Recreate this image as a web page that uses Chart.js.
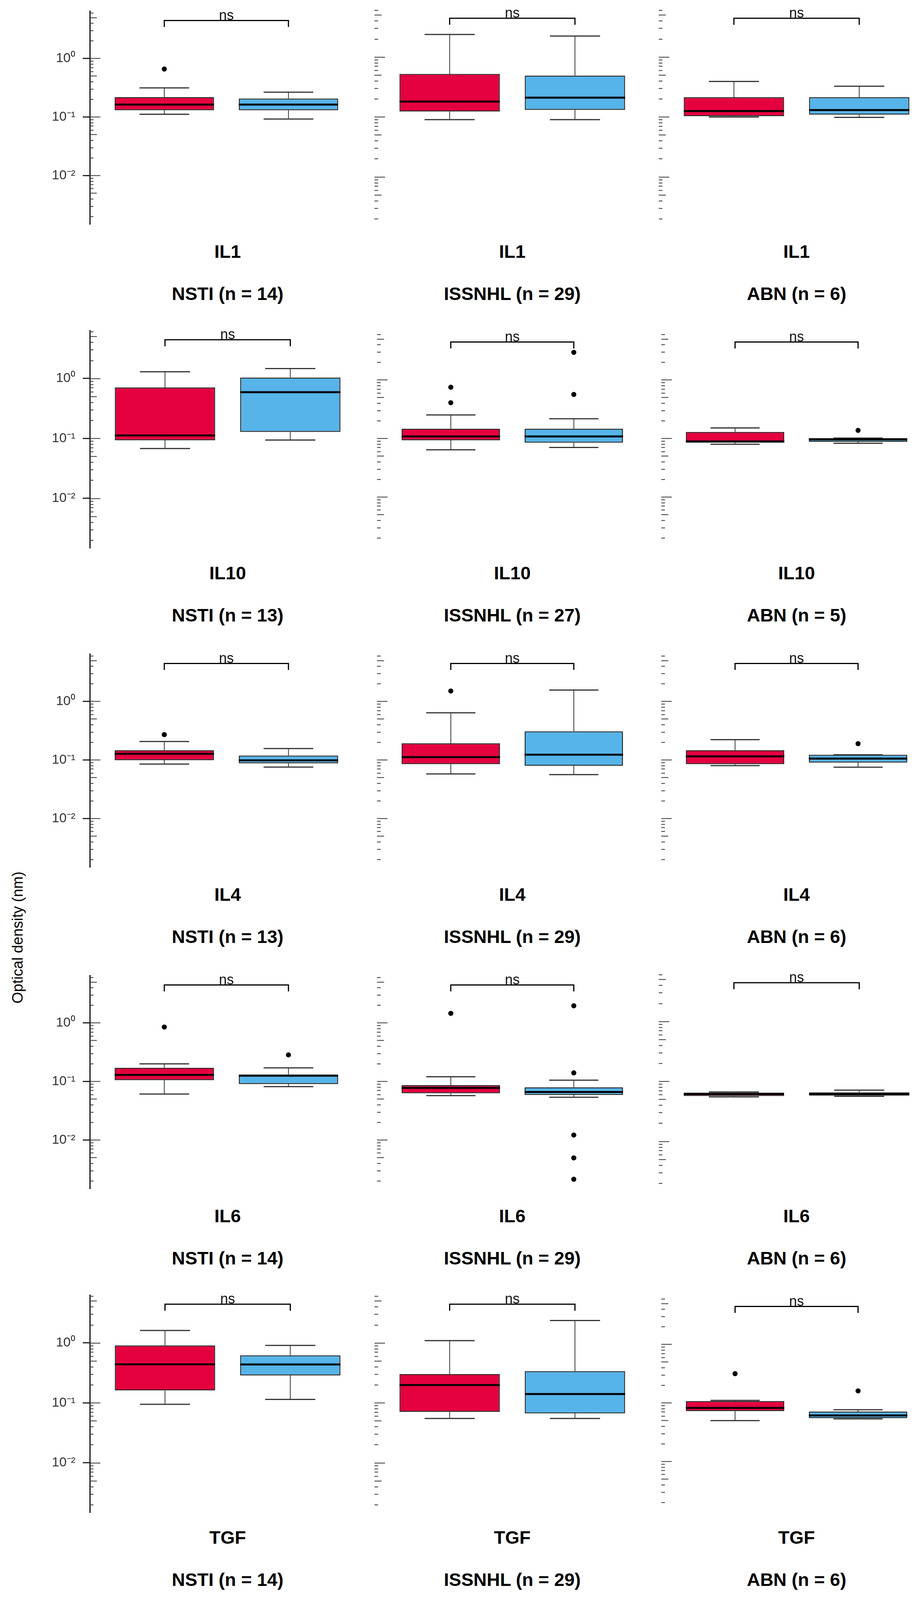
<!DOCTYPE html>
<html>
<head>
<meta charset="utf-8">
<script src="https://cdn.jsdelivr.net/npm/chart.js@4.4.1/dist/chart.umd.min.js"></script>
<style>
  html, body { margin: 0; padding: 0; background: #fff; }
  #fig { position: relative; width: 2351px; height: 5267px; overflow: hidden;
         font-family: "Liberation Sans", Arial, sans-serif; color: #000; }
  #fig canvas { position: absolute; }
  .lbl { position: absolute; white-space: nowrap; line-height: 1; transform: translate(-50%, -50%); }
  .strip { font-weight: bold; font-size: 47px; }
  .ytitle { font-size: 38px; transform: translate(-50%, -50%) rotate(-90deg); }
  .leg { position: absolute; white-space: nowrap; line-height: 1; transform: translateY(-50%); }
  .key { position: absolute; width: 40px; height: 40px; transform: translateY(-50%); }
  .key .wh { position: absolute; left: 19px; top: 0; width: 2px; height: 40px; background: #333; }
  .key .bx { position: absolute; left: 0; top: 6px; width: 36px; height: 24px; border: 2px solid #222; }
  .key .md { position: absolute; left: 0; top: 18px; width: 40px; height: 4px; background: #000; }
</style>
</head>
<body>
<div id="fig"></div>
<script>
// facets
const markers = ['IL1', 'IL10', 'IL4', 'IL6', 'TGF', 'VEGF'];
const groups = ['NSTI', 'ISSNHL', 'ABN'];
const groupSizes = [[14, 29, 6], [13, 27, 5], [13, 29, 6], [14, 29, 6], [14, 29, 6], [14, 29, 6]];
const hbotLevels = ['pre-HBOT', 'post-HBOT'];
const sigText = 'ns';

// box stats per group (NSTI, ISSNHL, ABN): [lower whisker, Q1, median, Q3, upper whisker]
const il1Pre   = [[0.111, 0.130, 0.162, 0.218, 0.313], [0.090, 0.123, 0.180, 0.521, 2.37], [0.0995, 0.1026, 0.125, 0.212, 0.390]];
const il1Post  = [[0.092, 0.130, 0.162, 0.206, 0.264], [0.090, 0.131, 0.209, 0.489, 2.23], [0.098, 0.109, 0.130, 0.212, 0.324]];
const il10Pre  = [[0.0677, 0.093, 0.112, 0.706, 1.29], [0.0639, 0.093, 0.108, 0.146, 0.251], [0.0794, 0.0845, 0.0889, 0.129, 0.151]];
const il10Post = [[0.0936, 0.128, 0.589, 1.035, 1.458], [0.070, 0.0845, 0.108, 0.146, 0.216], [0.0826, 0.0875, 0.096, 0.101, 0.101]];
const il4Pre   = [[0.0848, 0.0989, 0.127, 0.1465, 0.206], [0.0575, 0.0843, 0.1114, 0.191, 0.637], [0.0796, 0.0843, 0.115, 0.1465, 0.221]];
const il4Post  = [[0.0752, 0.0873, 0.098, 0.1186, 0.156], [0.056, 0.0792, 0.1228, 0.307, 1.56], [0.075, 0.090, 0.105, 0.122, 0.122]];
const il6Pre   = [[0.0607, 0.1047, 0.129, 0.1705, 0.199], [0.057, 0.0625, 0.0772, 0.0861, 0.120], [0.0551, 0.057, 0.0617, 0.0646, 0.0665]];
const il6Post  = [[0.0813, 0.0897, 0.125, 0.131, 0.170], [0.0535, 0.0586, 0.0658, 0.079, 0.1047], [0.0563, 0.0577, 0.0617, 0.0654, 0.0713]];
const tgfPre   = [[0.0944, 0.161, 0.438, 0.908, 1.61], [0.0548, 0.0705, 0.198, 0.302, 1.09], [0.0497, 0.0722, 0.0818, 0.107, 0.110]];
const tgfPost  = [[0.114, 0.287, 0.436, 0.618, 0.908], [0.0548, 0.0666, 0.140, 0.337, 2.36], [0.0532, 0.0548, 0.061, 0.071, 0.076]];
const vegfPre  = [[0.123, 0.1486, 0.166, 0.227, 0.379], [0.0669, 0.0827, 0.0995, 0.1396, 0.1746], [0.0759, 0.0842, 0.0933, 0.102, 0.115]];
const vegfPost = [[0.1236, 0.135, 0.151, 0.164, 0.192], [0.0625, 0.0918, 0.1168, 0.1396, 0.225], [0.081, 0.0892, 0.1077, 0.1135, 0.1265]];

// outliers per group
const il1PreOut   = [[0.656], [], []];
const il1PostOut  = [[], [], []];
const il10PreOut  = [[], [0.748, 0.406], []];
const il10PostOut = [[], [2.94, 0.562], [0.137]];
const il4PreOut   = [[0.270], [1.50], []];
const il4PostOut  = [[], [], [0.189]];
const il6PreOut   = [[0.847], [1.45], []];
const il6PostOut  = [[0.283], [1.95, 0.1395, 0.0121, 0.00493, 0.00213], []];
const tgfPreOut   = [[], [], [0.315]];
const tgfPostOut  = [[], [], [0.160]];
const vegfPreOut  = [[], [0.593], []];
const vegfPostOut = [[0.226], [0.523], []];

const preStats  = [il1Pre, il10Pre, il4Pre, il6Pre, tgfPre, vegfPre];
const postStats = [il1Post, il10Post, il4Post, il6Post, tgfPost, vegfPost];
const preOut    = [il1PreOut, il10PreOut, il4PreOut, il6PreOut, tgfPreOut, vegfPreOut];
const postOut   = [il1PostOut, il10PostOut, il4PostOut, il6PostOut, tgfPostOut, vegfPostOut];

// shared log y range and bracket height
const yMin = Math.pow(10, -2.836);
const yMax = Math.pow(10, 0.806);
const bracketTop = 4.42;
const bracketTip = 3.43;

// look
const RED = '#E5003F';
const BLUE = '#56B4E9';
const FONT = '"Liberation Sans", Arial, sans-serif';
const PANEL_W = 706, PANEL_H = 559;
const COL_X0 = 230.4, COL_STEP = 728.3;
const ROW_Y0 = 21.7, ROW_STEP = 823;
const AXIS_W = 130;
const BOTTOM_EXTRA = 240;

const fig = document.getElementById('fig');

const SUP = { '0': '\u2070', '1': '\u00B9', '2': '\u00B2', '3': '\u00B3', '-': '\u207B' };
function isPow10(v) {
  const l = Math.log10(v);
  return Math.abs(l - Math.round(l)) < 1e-6;
}
function powLabel(v) {
  if (!isPow10(v)) return '';
  const e = String(Math.round(Math.log10(v)));
  return '10' + e.split('').map(ch => SUP[ch]).join('');
}
function logTickValues() {
  const out = [];
  for (let k = -3; k <= 0; k++) {
    for (let m = 1; m <= 9; m++) {
      const v = m * Math.pow(10, k);
      if (v >= yMin && v <= yMax) out.push(v);
    }
  }
  return out;
}

function boxPartsPlugin(stats, lastRow) {
  return {
    id: 'boxParts',
    beforeDatasetsDraw(chart) {
      const { ctx } = chart;
      const x = chart.scales.x, y = chart.scales.y;
      ctx.save();
      ctx.strokeStyle = '#333';
      stats.forEach((s, i) => {
        const cx = x.getPixelForValue(i + 1);
        ctx.lineWidth = 2;
        ctx.beginPath();
        ctx.moveTo(cx, y.getPixelForValue(s[3]));
        ctx.lineTo(cx, y.getPixelForValue(s[4]));
        ctx.moveTo(cx, y.getPixelForValue(s[1]));
        ctx.lineTo(cx, y.getPixelForValue(s[0]));
        ctx.stroke();
        // caps
        const xl = x.getPixelForValue(i + 0.8), xr = x.getPixelForValue(i + 1.2);
        ctx.lineWidth = 3;
        [s[0], s[4]].forEach(v => {
          const py = y.getPixelForValue(v);
          ctx.beginPath();
          ctx.moveTo(xl, py);
          ctx.lineTo(xr, py);
          ctx.stroke();
        });
      });
      ctx.restore();
    },
    afterDatasetsDraw(chart) {
      const { ctx } = chart;
      const x = chart.scales.x, y = chart.scales.y;
      ctx.save();
      ctx.strokeStyle = '#000';
      ctx.lineWidth = 5;
      stats.forEach((s, i) => {
        const py = y.getPixelForValue(s[2]);
        ctx.beginPath();
        ctx.moveTo(x.getPixelForValue(i + 0.6), py);
        ctx.lineTo(x.getPixelForValue(i + 1.4), py);
        ctx.stroke();
      });
      ctx.restore();
    },
    afterDraw(chart) {
      const { ctx, chartArea } = chart;
      const x = chart.scales.x, y = chart.scales.y;
      ctx.save();
      // log ticks along the panel's left edge
      ctx.strokeStyle = '#333';
      ctx.lineWidth = 2;
      logTickValues().forEach(v => {
        const m = Math.round(v / Math.pow(10, Math.floor(Math.log10(v) + 1e-9)));
        const len = m === 1 ? 27 : (m === 5 ? 18 : 9.5);
        const py = Math.round(y.getPixelForValue(v)) + 0.5;
        ctx.beginPath();
        ctx.moveTo(chartArea.left, py);
        ctx.lineTo(chartArea.left + len, py);
        ctx.stroke();
      });
      // significance bracket
      const x1 = x.getPixelForValue(1), x2 = x.getPixelForValue(2);
      const yt = y.getPixelForValue(bracketTop), yb = y.getPixelForValue(bracketTip);
      ctx.strokeStyle = '#000';
      ctx.lineWidth = 3;
      ctx.beginPath();
      ctx.moveTo(x1, yb);
      ctx.lineTo(x1, yt);
      ctx.lineTo(x2, yt);
      ctx.lineTo(x2, yb);
      ctx.stroke();
      ctx.fillStyle = '#111';
      ctx.font = '36px ' + FONT;
      ctx.textAlign = 'center';
      ctx.textBaseline = 'alphabetic';
      ctx.fillText(sigText, (x1 + x2) / 2, yt - 2);
      // x ticks of the bottom row, below the strips
      if (lastRow) {
        ctx.strokeStyle = '#333';
        ctx.lineWidth = 2.5;
        [1, 2].forEach(v => {
          const px = x.getPixelForValue(v);
          ctx.beginPath();
          ctx.moveTo(px, chartArea.bottom + 207);
          ctx.lineTo(px, chartArea.bottom + 227);
          ctx.stroke();
        });
      }
      ctx.restore();
    }
  };
}

function addLabel(cls, text, cx, cy) {
  const d = document.createElement('div');
  d.className = 'lbl ' + cls;
  d.textContent = text;
  d.style.left = cx + 'px';
  d.style.top = cy + 'px';
  fig.appendChild(d);
  return d;
}

markers.forEach((marker, r) => {
  groups.forEach((group, c) => {
    const left = Math.round(COL_X0 + COL_STEP * c);
    const top = Math.round(ROW_Y0 + ROW_STEP * r);
    const axisW = c === 0 ? AXIS_W : 0;
    const lastRow = r === markers.length - 1;
    const w = PANEL_W + axisW;
    const h = PANEL_H + (lastRow ? BOTTOM_EXTRA : 0);

    const cv = document.createElement('canvas');
    cv.width = w;
    cv.height = h;
    cv.style.width = w + 'px';
    cv.style.height = h + 'px';
    cv.style.left = (left - axisW) + 'px';
    cv.style.top = top + 'px';
    fig.appendChild(cv);

    const pre = preStats[r][c], post = postStats[r][c];
    const outliers = preOut[r][c].map(v => ({ x: 1, y: v }))
      .concat(postOut[r][c].map(v => ({ x: 2, y: v })));

    new Chart(cv, {
      type: 'bar',
      data: {
        datasets: [
          {
            type: 'bar',
            label: 'box',
            data: [{ x: 1, y: [pre[1], pre[3]] }, { x: 2, y: [post[1], post[3]] }],
            backgroundColor: [RED, BLUE],
            borderColor: '#222',
            borderWidth: 2.5,
            borderSkipped: false,
            barPercentage: 0.8,
            categoryPercentage: 1,
            grouped: false,
            order: 2
          },
          {
            type: 'scatter',
            label: 'outliers',
            data: outliers,
            pointRadius: 6.5,
            pointBackgroundColor: '#000',
            pointBorderWidth: 0,
            order: 1
          }
        ]
      },
      options: {
        responsive: false,
        animation: false,
        devicePixelRatio: 1,
        layout: { padding: { left: 0, right: 0, top: 0, bottom: lastRow ? BOTTOM_EXTRA : 0 } },
        plugins: { legend: { display: false }, tooltip: { enabled: false } },
        scales: {
          x: {
            type: 'linear', min: 0.4, max: 2.6, offset: false, display: false,
            afterBuildTicks: s => { s.ticks = [{ value: 1 }, { value: 2 }]; }
          },
          y: {
            type: 'logarithmic', min: yMin, max: yMax,
            display: c === 0,
            afterBuildTicks: s => { s.ticks = logTickValues().map(v => ({ value: v, major: isPow10(v) })); },
            afterFit: s => { s.width = axisW; s.paddingTop = 0; s.paddingBottom = 0; },
            ticks: {
              autoSkip: false,
              padding: 19,
              color: '#333',
              font: { family: FONT, size: 34 },
              callback: v => powLabel(v)
            },
            grid: {
              drawOnChartArea: false,
              drawTicks: true,
              tickLength: 18,
              tickWidth: 3,
              tickColor: ctx => (ctx.tick && isPow10(ctx.tick.value)) ? '#222' : 'rgba(0,0,0,0)'
            },
            border: { display: true, color: '#111', width: 3 }
          }
        }
      },
      plugins: [boxPartsPlugin([pre, post], lastRow)]
    });

    // strips under the panel
    const cx = left + PANEL_W / 2;
    addLabel('strip', marker, cx, top + PANEL_H + 62);
    addLabel('strip', group + ' (n = ' + groupSizes[r][c] + ')', cx, top + PANEL_H + 170);
  });
});

// y axis title
addLabel('ytitle', 'Optical density (nm)', 45, 2400);

// legend
function legText(text, x, y, size, bold) {
  const d = document.createElement('div');
  d.className = 'leg';
  d.textContent = text;
  d.style.left = x + 'px';
  d.style.top = y + 'px';
  d.style.fontSize = size + 'px';
  if (bold) d.style.fontWeight = 'bold';
  fig.appendChild(d);
}
function legKey(color, x, y) {
  const k = document.createElement('div');
  k.className = 'key';
  k.style.left = x + 'px';
  k.style.top = y + 'px';
  k.innerHTML = '<div class="wh"></div><div class="bx" style="background:' + color + '"></div><div class="md"></div>';
  fig.appendChild(k);
}
const legY = 5187;
legText('HBOT', 882, legY, 56, true);
legKey(RED, 1100, legY - 3);
legText(hbotLevels[0], 1193, legY, 44, false);
legKey(BLUE, 1437, legY - 3);
legText(hbotLevels[1], 1512, legY, 44, false);
</script>
</body>
</html>
